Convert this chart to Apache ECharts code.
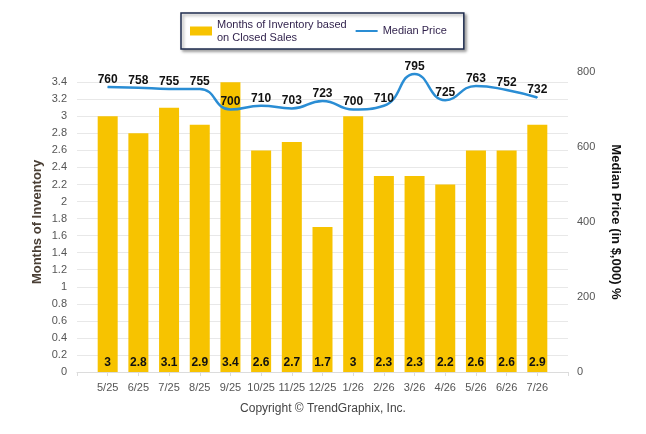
<!DOCTYPE html>
<html>
<head>
<meta charset="utf-8">
<script src="https://cdn.jsdelivr.net/npm/echarts@6/dist/echarts.min.js"></script>
<style>
  html, body { margin: 0; padding: 0; background: #fff; }
  #main { width: 646px; height: 434px; }
</style>
</head>
<body>
<div id="main"></div>
<script>
// 数据
var months = ['5/25','6/25','7/25','8/25','9/25','10/25','11/25','12/25','1/26','2/26','3/26','4/26','5/26','6/26','7/26'];
var inventory = [3, 2.8, 3.1, 2.9, 3.4, 2.6, 2.7, 1.7, 3, 2.3, 2.3, 2.2, 2.6, 2.6, 2.9];
var medianPrice = [760, 758, 755, 755, 700, 710, 703, 723, 700, 710, 795, 725, 763, 752, 732];
var leftTicks = [0, 3.4, 0.2];     // min, last label, step
var rightTicks = [0, 800, 200];

var font = 'Liberation Sans';
var barData = inventory.map(function (v, i) { return [i, v]; });
var lineData = medianPrice.map(function (v, i) { return [i, v]; });

var myChart = echarts.init(document.getElementById('main'));
var option = {
    backgroundColor: '#fff',
    animation: false,
    textStyle: { fontFamily: font },
    grid: { left: 77, right: 78, top: 72, bottom: 62 },
    legend: {
        orient: 'horizontal',
        top: 13,
        left: 181,
        padding: [5, 17, 5, 9],
        itemGap: 9,
        itemWidth: 22,
        itemHeight: 9,
        borderColor: '#1f2d4f',
        borderWidth: 1.5,
        backgroundColor: '#fff',
        shadowColor: 'rgba(0,0,0,0.35)',
        shadowBlur: 3,
        shadowOffsetX: 2,
        shadowOffsetY: 2,
        textStyle: { color: '#2e1f4a', fontSize: 11, lineHeight: 13, fontFamily: font, verticalAlign: 'top' },
        data: [
            { name: 'Months of Inventory based\non Closed Sales', icon: 'rect' },
            { name: 'Median Price', icon: 'path://M0,4 L22,4 L22,6 L0,6 Z' }
        ]
    },
    graphic: [{
        type: 'text',
        left: 'center',
        top: 403,
        style: { text: 'Copyright © TrendGraphix, Inc.', fill: '#444', fontSize: 12, fontFamily: font }
    }],
    xAxis: {
        type: 'value',
        min: -1,
        max: months.length,
        interval: 1,
        splitLine: { show: false },
        axisLine: { show: true, lineStyle: { color: '#dcdcdc' } },
        axisTick: { show: true, length: 4, lineStyle: { color: '#dcdcdc' } },
        axisLabel: {
            color: '#555', fontSize: 11, margin: 10,
            formatter: function (v) { return months[v] || ''; }
        }
    },
    yAxis: [{
        type: 'value',
        min: leftTicks[0],
        max: 3.52,
        interval: leftTicks[2],
        name: 'Months of Inventory',
        nameLocation: 'middle',
        nameGap: 33,
        nameMoveOverlap: false,
        nameTextStyle: { color: '#4a3f35', fontSize: 13, fontWeight: 'bold', fontFamily: font },
        axisLine: { show: false },
        axisTick: { show: false },
        axisLabel: {
            color: '#555', fontSize: 11, margin: 10, showMaxLabel: false,
            formatter: function (v) { return v > leftTicks[1] + 0.01 ? '' : String(+v.toFixed(1)); }
        },
        splitLine: { show: true, showMaxLine: false, lineStyle: { color: '#e8e8e8' } }
    }, {
        type: 'value',
        min: rightTicks[0],
        max: rightTicks[1],
        interval: rightTicks[2],
        name: 'Median Price (in $,000) %',
        nameLocation: 'middle',
        nameRotate: -90,
        nameGap: 41,
        nameMoveOverlap: false,
        nameTextStyle: { color: '#111', fontSize: 13, fontWeight: 'bold', fontFamily: font },
        axisLine: { show: false },
        axisTick: { show: false },
        axisLabel: { color: '#555', fontSize: 11, margin: 9 },
        splitLine: { show: false }
    }],
    series: [{
        name: 'Months of Inventory based\non Closed Sales',
        type: 'bar',
        barWidth: 20,
        itemStyle: { color: '#f7c300' },
        label: {
            show: true, position: 'insideBottom', distance: 3,
            color: '#111', fontWeight: 'bold', fontSize: 12
        },
        data: barData
    }, {
        name: 'Median Price',
        type: 'line',
        yAxisIndex: 1,
        smooth: true,
        symbol: 'circle',
        symbolSize: 1,
        showSymbol: true,
        lineStyle: { color: '#2a8dd4', width: 2.5 },
        itemStyle: { color: '#2a8dd4' },
        label: {
            show: true, position: 'top', distance: 1,
            color: '#111', fontWeight: 'bold', fontSize: 12
        },
        data: lineData
    }]
};
myChart.setOption(option);
</script>
</body>
</html>
